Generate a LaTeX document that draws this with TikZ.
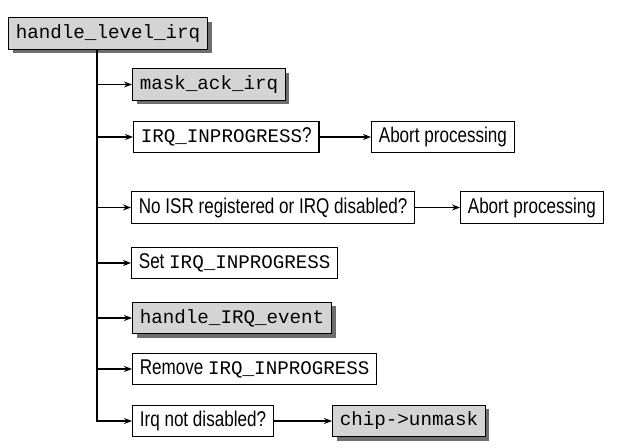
\documentclass[tikz,border=0pt]{standalone}
\usepackage{fontspec}
\setmainfont{Liberation Sans}[FakeStretch=0.8]
\setmonofont{Liberation Mono}
\usepackage{tikz}
\usetikzlibrary{arrows.meta,shadows}
\usepackage{color,xcolor}
\definecolor{bx}{HTML}{D4D4D4}
\definecolor{sh}{HTML}{6E6E6E}
\newcommand{\cd}[1]{{\fontsize{14.4}{18}\selectfont\ttfamily #1}}

\begin{document}
\begin{tikzpicture}[x=0.75pt,y=-0.75pt]
            \tikzstyle{every node}=[font=\fontsize{16}{18}\selectfont]
            \tikzstyle{box}=[draw,line width=0.8pt,anchor=west,minimum height=23.5pt,inner xsep=5.5pt,inner ysep=0pt,fill=white]
            \tikzstyle{fn}=[box,fill=bx,font=\fontsize{14.4}{18}\selectfont\ttfamily,drop shadow={shadow xshift=3pt,shadow yshift=-3pt,fill=sh,opacity=1}]
            \tikzstyle{arr}=[-{Stealth[length=6pt,width=4.5pt]},line width=1pt]
            \useasboundingbox (0,0) rectangle (627,448);
            \node[fn] (top) at (8,33.5) {handle\_level\_irq};
            \node[fn] (mask) at (132,84.5) {mask\_ack\_irq};
            \node[box] (inprog) at (133,137) {\cd{IRQ\_INPROGRESS}?};
            \node[box] (abort1) at (371,137) {Abort processing};
            \node[box] (noisr) at (131,207.5) {No ISR registered or IRQ disabled?};
            \node[box] (abort2) at (460,207.5) {Abort processing};
            \node[box] (set) at (131,263) {Set \cd{IRQ\_INPROGRESS}};
            \node[fn] (event) at (132,318) {handle\_IRQ\_event};
            \node[box] (remove) at (132,369) {Remove \cd{IRQ\_INPROGRESS}};
            \node[box] (irqnot) at (132,421) {Irq not disabled?};
            \node[fn] (unmask) at (332,421) {chip->unmask};
            % trunk and branches
            \coordinate (trunk) at (97,0);
            \draw[line width=2.2pt] (trunk |- top.south) -- ([yshift=-0.5pt]trunk |- irqnot.west);
            \foreach \n in {mask,inprog,noisr,set,event,remove,irqnot}
              \draw[arr] (trunk |- \n.west) -- (\n.west);
            \draw[arr] (inprog) -- (abort1);
            \draw[arr] (noisr) -- (abort2);
            \draw[arr] (irqnot) -- (unmask);
          \end{tikzpicture}
\end{document}
